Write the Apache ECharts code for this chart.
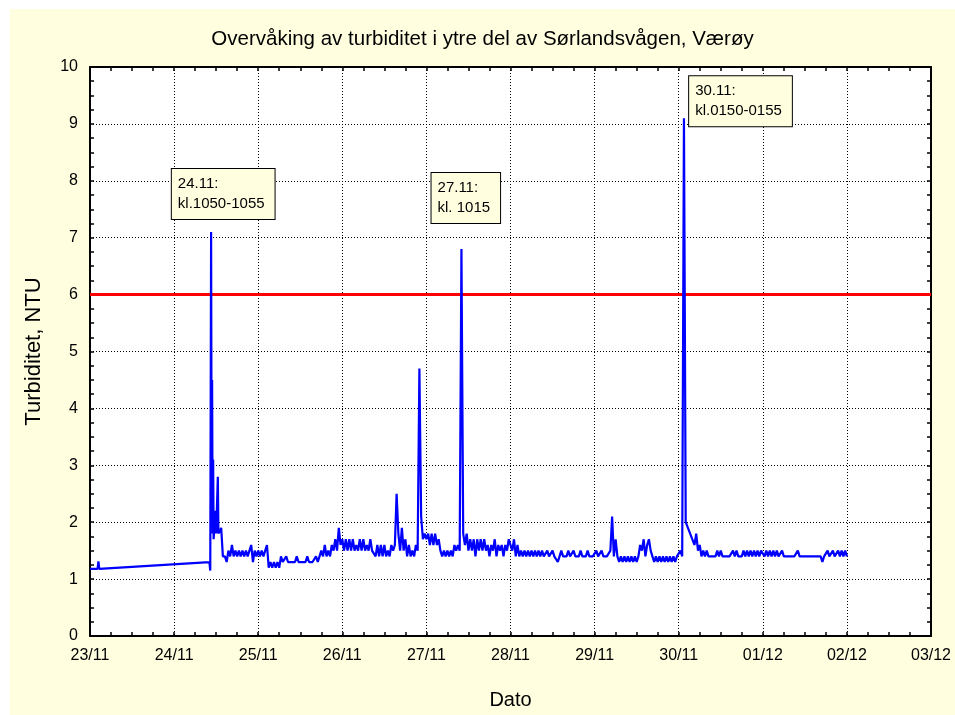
<!DOCTYPE html>
<html>
<head>
<meta charset="utf-8">
<script src="https://cdn.jsdelivr.net/npm/echarts@6/dist/echarts.min.js"></script>
<style>
  html, body { margin: 0; padding: 0; background: #fff; }
  #chart { position: absolute; left: 10px; top: 9px; width: 945px; height: 706px; }
</style>
</head>
<body>
<div id="chart"></div>
<script>
// x = days since 23/11 00:00
const dayLabels = ['23/11', '24/11', '25/11', '26/11', '27/11', '28/11', '29/11', '30/11', '01/12', '02/12', '03/12']

// first readings, gap in the logging, then the 24/11 episode
const firstLog = [[0, 1.18], [0.09, 1.18], [0.10, 1.31], [0.11, 1.18], [1.42, 1.30], [1.43, 1.15],
  [1.44, 7.1], [1.447, 2.0], [1.452, 4.5], [1.458, 1.8], [1.464, 3.1], [1.47, 1.7], [1.49, 2.2],
  [1.50, 1.8], [1.52, 2.8], [1.527, 1.8], [1.56, 1.9], [1.58, 1.4]]

// logged every 30 minutes (null = missing reading)
const step = 1 / 48
const day24Start = 1.6042
const day24 = [1.4, 1.3, 1.5, 1.4, 1.6, 1.4, 1.5, 1.4, 1.5, 1.4, 1.5, 1.4, 1.5, 1.4, 1.5, 1.6, 1.3, 1.5, 1.4]
const day25 = [1.5, 1.4, 1.5, 1.4, 1.5, 1.6, 1.2, 1.3, 1.2, 1.3, 1.2, 1.3, 1.2,
  1.4, 1.3, 1.3, 1.4, 1.3, 1.3, 1.3, 1.3, 1.3, 1.4, 1.3, 1.3, 1.3, 1.3, 1.3, 1.4, 1.3, 1.3, 1.3, 1.3, 1.4, 1.3,
  1.4, 1.5, 1.4, 1.6, 1.4, 1.5, 1.4, 1.6, 1.5, 1.7, 1.5, 1.9, 1.6]
const day26 = [1.7, 1.5, 1.7, 1.5, 1.7, 1.5, 1.7, 1.5, 1.6, 1.5, 1.7, 1.5, 1.7, 1.5, 1.6, 1.5, 1.7, 1.5,
  1.5, 1.4, 1.6, 1.4, 1.6, 1.4, 1.6, 1.4, 1.5, 1.4, 1.6,
  1.5, 1.6, 2.5,
  1.8, 1.5, 1.9, 1.5, 1.7, 1.4, 1.6, 1.4, 1.5, 1.4, 1.6,
  1.5, 4.7, 2.1, 1.7, 1.8]
const day27 = [1.7, 1.8, 1.6, 1.8, 1.6, 1.8, 1.6, 1.7,
  1.5, 1.4, 1.5, 1.4, 1.5, 1.4, 1.5, 1.4, 1.6, 1.5, 1.6,
  1.5, 6.8, 1.8,
  1.6, 1.8, 1.5, 1.7, 1.5, 1.7, 1.4, 1.7, 1.5, 1.7, 1.5, 1.7, 1.5, 1.6, 1.4, 1.6, 1.5, 1.7, 1.4, 1.6, 1.5, 1.6, 1.4, 1.6, 1.5, 1.7]
const day28 = [1.6, 1.5, 1.7, 1.4, 1.6, 1.4, 1.5,
  1.4, 1.5, 1.4, 1.5, 1.4, 1.5, 1.4, 1.5, 1.4, 1.5, 1.4, 1.5, 1.4, 1.4, 1.5, 1.4, 1.4, 1.5, 1.4, 1.4,
  1.3, 1.4, 1.5, 1.4, 1.4, 1.4, 1.5, 1.4, 1.4, 1.5, 1.4, 1.4, 1.4, 1.5, 1.4, 1.4, 1.4, 1.5, 1.4, 1.4, 1.4]
const day29 = [1.4, 1.5, 1.4, 1.4, 1.5, 1.4, 1.4,
  1.4, 1.4, 1.5, 2.1, 1.4, 1.7, 1.4,
  1.3, 1.4, 1.3, 1.4, 1.3, 1.4, 1.3, 1.4, 1.3, 1.4, 1.3, 1.4,
  1.6, 1.5, 1.7, 1.4, 1.6, 1.7, 1.5, 1.4, 1.3, 1.4,
  1.3, 1.4, 1.3, 1.4, 1.3, 1.4, 1.3, 1.4, 1.3, 1.4, 1.3, 1.4]
const day30 = [1.4, 1.5, 1.4, 9.1, 2.0, null, null, null, null, 1.6, 1.8, 1.5, 1.6, 1.4, 1.5, 1.4, 1.5,
  1.4, 1.4, 1.4, 1.4, 1.4, 1.5, 1.4, 1.5, 1.4, 1.4, 1.4, 1.4, 1.4, 1.4, 1.5, 1.4, 1.5, 1.4, 1.4, 1.4,
  1.5, 1.4, 1.5, 1.4, 1.5, 1.4, 1.5, 1.4, 1.5, 1.4, 1.5]
const day01 = [1.5, 1.4, 1.5, 1.4, 1.5, 1.4, 1.5, 1.4, 1.5, 1.4, 1.4, 1.5, 1.4, 1.4, 1.4, 1.4,
  1.4, 1.4, 1.4, 1.4, 1.5, 1.4, 1.4, 1.4, 1.4, 1.4, 1.4, 1.4, 1.4, 1.4, 1.4, 1.4, 1.4,
  1.4, 1.3, 1.4, 1.4, 1.5, 1.4, 1.4, 1.5, 1.4, 1.4, 1.5, 1.4, 1.5, 1.4, 1.5]
const lastLog = [[9.0, 1.4]]

const limitValue = 6
const limitLine = [[0, limitValue], [10, limitValue]]

const noteTexts = ['24.11:\nkl.1050-1055', '27.11:\nkl. 1015', '30.11:\nkl.0150-0155']
const noteCoords = [[0.979, 8.2], [4.067, 8.13], [7.13, 9.83]]

const toPoints = (start, vals) =>
  vals.map((v, i) => [start + i * step, v]).filter(p => p[1] !== null)

const seriesData = [
  ...firstLog,
  ...toPoints(day24Start, day24),
  ...toPoints(2, day25),
  ...toPoints(3, day26),
  ...toPoints(4, day27),
  ...toPoints(5, day28),
  ...toPoints(6, day29),
  ...toPoints(7, day30),
  ...toPoints(8, day01),
  ...lastLog
]

const font = "'Liberation Sans', Arial, sans-serif"
const axisLine = { show: true, onZero: false, lineStyle: { color: '#000', width: 2 } }
const axisTick = { show: true, inside: true, length: 4, lineStyle: { color: '#000', width: 1.5 } }
const minorTick = { show: true, splitNumber: 4, length: 4, lineStyle: { color: '#000', width: 1.5 } }
const gridLine = { show: true, lineStyle: { color: '#000', type: [1, 2], width: 1 } }

const chart = echarts.init(document.getElementById('chart'), null, { renderer: 'canvas' })

chart.setOption({
  animation: false,
  backgroundColor: '#FFFFE0',
  title: {
    text: 'Overvåking av turbiditet i ytre del av Sørlandsvågen, Værøy',
    left: 'center',
    top: 20,
    padding: 0,
    textStyle: { fontFamily: font, fontSize: 20.5, fontWeight: 'normal', color: '#000' }
  },
  grid: { left: 80, right: 24, top: 58, bottom: 71, show: true, backgroundColor: '#fff', borderWidth: 0 },
  xAxis: [
    {
      type: 'value', min: 0, max: 10, interval: 1, position: 'bottom',
      axisLine, axisTick, minorTick,
      splitLine: gridLine,
      axisLabel: {
        color: '#000', fontSize: 16, fontFamily: font, margin: 12,
        showMinLabel: true, showMaxLabel: true, hideOverlap: false,
        formatter: v => dayLabels[Math.round(v)]
      },
      name: 'Dato', nameLocation: 'middle', nameGap: 54,
      nameTextStyle: { fontFamily: font, fontSize: 20, color: '#000' }
    },
    {
      type: 'value', min: 0, max: 10, interval: 1, position: 'top',
      axisLine, axisTick, minorTick,
      splitLine: { show: false }, axisLabel: { show: false }
    }
  ],
  yAxis: [
    {
      type: 'value', min: 0, max: 10, interval: 1, position: 'left',
      axisLine, axisTick, minorTick,
      splitLine: gridLine,
      axisLabel: { color: '#000', fontSize: 16, fontFamily: font, margin: 12 },
      name: 'Turbiditet, NTU', nameLocation: 'middle', nameGap: 45, nameRotate: 90,
      nameTextStyle: { fontFamily: font, fontSize: 22, color: '#000' }
    },
    {
      type: 'value', min: 0, max: 10, interval: 1, position: 'right',
      axisLine, axisTick, minorTick,
      splitLine: { show: false }, axisLabel: { show: false }
    }
  ],
  series: [
    {
      name: 'Grense',
      type: 'line',
      data: limitLine,
      symbol: 'none',
      silent: true,
      z: 2,
      lineStyle: { color: '#FF0000', width: 3 }
    },
    {
      name: 'Turbiditet',
      type: 'line',
      data: seriesData,
      symbol: 'none',
      z: 3,
      lineStyle: { color: '#0000FF', width: 2.2 },
      markPoint: {
        symbol: 'circle',
        symbolSize: 1,
        itemStyle: { color: 'rgba(0,0,0,0)' },
        label: {
          show: true,
          position: [0, 0],
          align: 'left',
          verticalAlign: 'top',
          fontFamily: font,
          fontSize: 15,
          lineHeight: 20,
          color: '#000',
          backgroundColor: '#FFFFE0',
          borderColor: '#000',
          borderWidth: 1,
          padding: [5, 10, 5, 6],
          formatter: p => p.name
        },
        data: noteTexts.map((t, i) => ({ name: t, coord: noteCoords[i] }))
      }
    }
  ]
})
</script>
</body>
</html>
